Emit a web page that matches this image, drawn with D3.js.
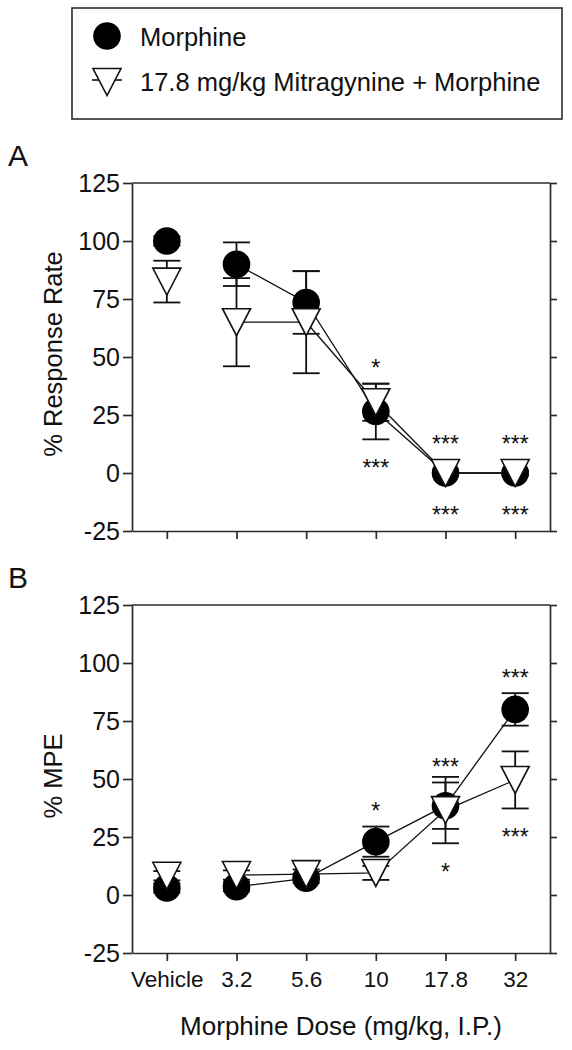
<!DOCTYPE html>
<html>
<head>
<meta charset="utf-8">
<script src="https://cdn.jsdelivr.net/npm/d3@7"></script>
<style>
  html, body { margin: 0; padding: 0; background: #fff; }
  svg { display: block; font-family: "Liberation Sans", Arial, Helvetica, sans-serif; }
</style>
</head>
<body>
<svg id="chart" width="572" height="1050"></svg>
<script>
// ---------- data ----------
const doses = ["Vehicle", "3.2", "5.6", "10", "17.8", "32"];
const yTicks = [-25, 0, 25, 50, 75, 100, 125];
const seriesNames = ["Morphine", "17.8 mg/kg Mitragynine + Morphine"];

// Panel A: % Response Rate
const morphineA = [100, 90, 73.5, 26.5, 0, 0];
const morphineErrA = [2, 9.4, 13.5, 12, 1, 1];
const mitraA = [82.5, 65, 65, 30.5, 0, 0];
const mitraErrA = [9, 19, 22, 8, 1, 1];
const morphineSigA = ["", "", "", "***", "***", "***"];
const mitraSigA = ["", "", "", "*", "***", "***"];

// Panel B: % MPE
const morphineB = [3, 3.6, 7.2, 23, 38.5, 80];
const morphineErrB = [2, 2, 2, 6.5, 10, 7];
const mitraB = [8.3, 8.6, 9, 9.5, 36.6, 49.6];
const mitraErrB = [2, 2, 2, 3, 14.3, 12.3];
const morphineSigB = ["", "", "", "*", "***", "***"];
const mitraSigB = ["", "", "", "", "*", "***"];

// ---------- drawing ----------
const svg = d3.select("#chart");
const AX = "#2b2b2b";
const left = 132, right = 550;
const R = 13.8;            // circle radius
const TW = 28, TH = 27;    // triangle size

const x = d3.scalePoint().domain(doses).range([left, right]).padding(0.5);

function triPath(cx, cy) {
  return `M${cx - TW/2},${cy - TH/2}L${cx + TW/2},${cy - TH/2}L${cx},${cy + TH/2}Z`;
}

function panel(cfg) {
  const y = d3.scaleLinear().domain([-25, 125]).range([cfg.bottom, cfg.top]);
  const g = svg.append("g");

  // left axis
  const la = g.append("g").attr("transform", `translate(${left},0)`)
    .call(d3.axisLeft(y).tickValues(yTicks).tickSize(9).tickSizeOuter(0).tickPadding(3).tickFormat(d => String(d)));
  la.selectAll("text").attr("font-size", 25).attr("fill", "#111").attr("font-family", null);
  // right axis
  g.append("g").attr("transform", `translate(${right},0)`)
    .call(d3.axisRight(y).tickValues(yTicks).tickSize(7).tickSizeOuter(0).tickFormat(""));
  // bottom axis
  const ba = g.append("g").attr("transform", `translate(0,${cfg.bottom})`)
    .call(d3.axisBottom(x).tickSize(8).tickSizeOuter(0).tickPadding(10)
      .tickFormat(cfg.showX ? d => d : ""));
  ba.selectAll("text").attr("font-size", 22.5).attr("fill", "#111").attr("font-family", null);
  // top border
  g.append("line").attr("x1", left).attr("x2", right).attr("y1", y(125)).attr("y2", y(125));
  g.selectAll("path.domain, .tick line, line").attr("stroke", AX).attr("stroke-width", 1.7);

  // panel letter
  g.append("text").attr("x", 8).attr("y", cfg.top - 17).attr("font-size", 30).attr("fill", "#111").text(cfg.letter);

  // y title
  g.append("text").attr("transform", `translate(62,${(cfg.top + cfg.bottom) / 2 - 3}) rotate(-90)`)
    .attr("text-anchor", "middle").attr("font-size", 25.5).attr("fill", "#111").text(cfg.ytitle);

  const idx = d3.range(doses.length);
  const line = d3.line().x(i => x(doses[i]));

  // connecting lines (vehicle not connected)
  const connected = idx.slice(1);
  g.append("path").attr("fill", "none").attr("stroke", "#111").attr("stroke-width", 1.3)
    .attr("d", line.y(i => y(cfg.m[i]))(connected));
  g.append("path").attr("fill", "none").attr("stroke", "#111").attr("stroke-width", 1.3)
    .attr("d", line.y(i => y(cfg.t[i]))(connected));

  // error bars
  function errBars(vals, errs) {
    const eg = g.append("g").attr("stroke", "#111").attr("stroke-width", 1.8);
    idx.forEach(i => {
      const cx = x(doses[i]);
      const hi = y(vals[i] + errs[i]), lo = y(vals[i] - errs[i]);
      eg.append("line").attr("x1", cx).attr("x2", cx).attr("y1", hi).attr("y2", lo);
      eg.append("line").attr("x1", cx - 13.5).attr("x2", cx + 13.5).attr("y1", hi).attr("y2", hi);
      eg.append("line").attr("x1", cx - 13.5).attr("x2", cx + 13.5).attr("y1", lo).attr("y2", lo);
    });
  }
  errBars(cfg.m, cfg.me);
  errBars(cfg.t, cfg.te);

  // markers
  g.append("g").selectAll("circle").data(idx).join("circle")
    .attr("cx", i => x(doses[i])).attr("cy", i => y(cfg.m[i])).attr("r", R).attr("fill", "#000");
  g.append("g").selectAll("path").data(idx).join("path")
    .attr("d", i => triPath(x(doses[i]), y(cfg.t[i])))
    .attr("fill", "#fff").attr("stroke", "#111").attr("stroke-width", 1.6).attr("stroke-linejoin", "miter");

  // significance stars
  const fs = 23;
  function stars(vals, errs, sig, side, half) {
    idx.forEach(i => {
      if (!sig[i]) return;
      let cy;
      if (side === "above") cy = Math.min(y(vals[i] + errs[i]), y(vals[i]) - half) - 21;
      else cy = Math.max(y(vals[i] - errs[i]), y(vals[i]) + half) + 23;
      g.append("text").attr("x", x(doses[i])).attr("y", cy + 0.58 * fs)
        .attr("text-anchor", "middle").attr("font-size", fs).attr("fill", "#111").text(sig[i]);
    });
  }
  stars(cfg.m, cfg.me, cfg.ms, cfg.mSide, R);
  stars(cfg.t, cfg.te, cfg.ts, cfg.tSide, TH / 2);
}

panel({ top: 183, bottom: 531, letter: "A", ytitle: "% Response Rate", showX: false,
  m: morphineA, me: morphineErrA, t: mitraA, te: mitraErrA,
  ms: morphineSigA, mSide: "below", ts: mitraSigA, tSide: "above" });
panel({ top: 605, bottom: 953, letter: "B", ytitle: "% MPE", showX: true,
  m: morphineB, me: morphineErrB, t: mitraB, te: mitraErrB,
  ms: morphineSigB, mSide: "above", ts: mitraSigB, tSide: "below" });

// x title
svg.append("text").attr("x", (left + right) / 2).attr("y", 1035).attr("text-anchor", "middle")
  .attr("font-size", 26).attr("fill", "#111").text("Morphine Dose (mg/kg, I.P.)");

// legend
const lg = svg.append("g");
lg.append("rect").attr("x", 72).attr("y", 8).attr("width", 490).attr("height", 111)
  .attr("fill", "#fff").attr("stroke", AX).attr("stroke-width", 1.6);
lg.append("circle").attr("cx", 107).attr("cy", 36).attr("r", R).attr("fill", "#000");
lg.append("line").attr("x1", 92).attr("x2", 122).attr("y1", 80).attr("y2", 80).attr("stroke", "#111").attr("stroke-width", 1.6);
lg.append("path").attr("d", triPath(107, 82)).attr("fill", "#fff").attr("stroke", "#111").attr("stroke-width", 1.6);
lg.selectAll("text.leg").data(seriesNames).join("text").attr("class", "leg")
  .attr("x", 140).attr("y", (d, i) => 46 + i * 45).attr("font-size", 25.5).attr("fill", "#111").text(d => d);
</script>
</body>
</html>
